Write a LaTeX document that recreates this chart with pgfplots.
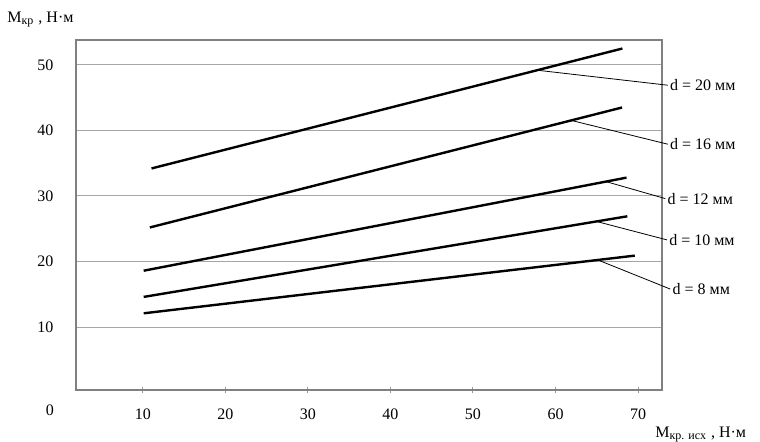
\documentclass[border=0pt]{standalone}
\usepackage{fontspec}
\setmainfont{Liberation Serif}
\usepackage{pgfplots}
\pgfplotsset{compat=1.18}

\begin{document}
\begin{tikzpicture}[font=\fontsize{8}{10}\selectfont]
\begin{axis}[
scale only axis,width=293pt,height=175pt,
xmin=1.9,xmax=72.9,ymin=0.4,ymax=53.8,
xtick={10,20,...,70},ytick={10,20,...,50},
ymajorgrids,grid style={gray!70,line width=0.5pt},
axis line style={gray,line width=1pt},
xtick pos=lower,tick align=center,major tick length=3pt,
xtick style={gray!80,line width=0.5pt},ytick style={draw=none},
/pgf/number format/assume math mode=true,
tick label style={font=\fontsize{8}{10}\selectfont},
xticklabel style={yshift=-4.5pt},yticklabel style={xshift=-6.3pt},
clip=false]
% d = 20 mm
\addplot[black,line width=1.2pt] coordinates {(11.05,34.2) (68.1,52.5)};
% d = 16 mm
\addplot[black,line width=1.2pt] coordinates {(10.85,25.2) (68.06,43.5)};
% d = 12 mm
\addplot[black,line width=1.2pt] coordinates {(10.1,18.6) (68.6,32.8)};
% d = 10 mm
\addplot[black,line width=1.2pt] coordinates {(10.1,14.6) (68.7,26.9)};
% d = 8 mm
\addplot[black,line width=1.2pt] coordinates {(10.1,12.1) (69.6,20.9)};

\draw[line width=0.4pt] (axis cs:57.7,49.2) -- (axis cs:73.6,46.9) node[anchor=west,inner sep=1pt]{d = 20 мм};
\draw[line width=0.4pt] (axis cs:62.0,41.5) -- (axis cs:73.6,37.9) node[anchor=west,inner sep=1pt]{d = 16 мм};
\draw[line width=0.4pt] (axis cs:66.1,32.2) -- (axis cs:73.3,29.6) node[anchor=west,inner sep=1pt]{d = 12 мм};
\draw[line width=0.4pt] (axis cs:65.0,26.1) -- (axis cs:73.5,23.3) node[anchor=west,inner sep=1pt]{d = 10 мм};
\draw[line width=0.4pt] (axis cs:65.4,20.1) -- (axis cs:73.9,15.8) node[anchor=west,inner sep=1pt]{d = 8 мм};

\node at (rel axis cs:0,0) [xshift=-13pt,yshift=-10pt] {0};
\node[anchor=base west,inner sep=0pt] at (rel axis cs:0,1) [xshift=-34.5pt,yshift=8.5pt] {M\textsubscript{кр} , Н·м};
\node[anchor=base west,inner sep=0pt] at (rel axis cs:1,0) [xshift=-3.5pt,yshift=-24pt] {M\textsubscript{кр. исх} , Н·м};
\end{axis}
\pgfresetboundingbox
\path[use as bounding box] ([shift={(-38pt,-26pt)}]current axis.south west) rectangle ([shift={(49pt,20pt)}]current axis.north east);
\end{tikzpicture}
\end{document}
